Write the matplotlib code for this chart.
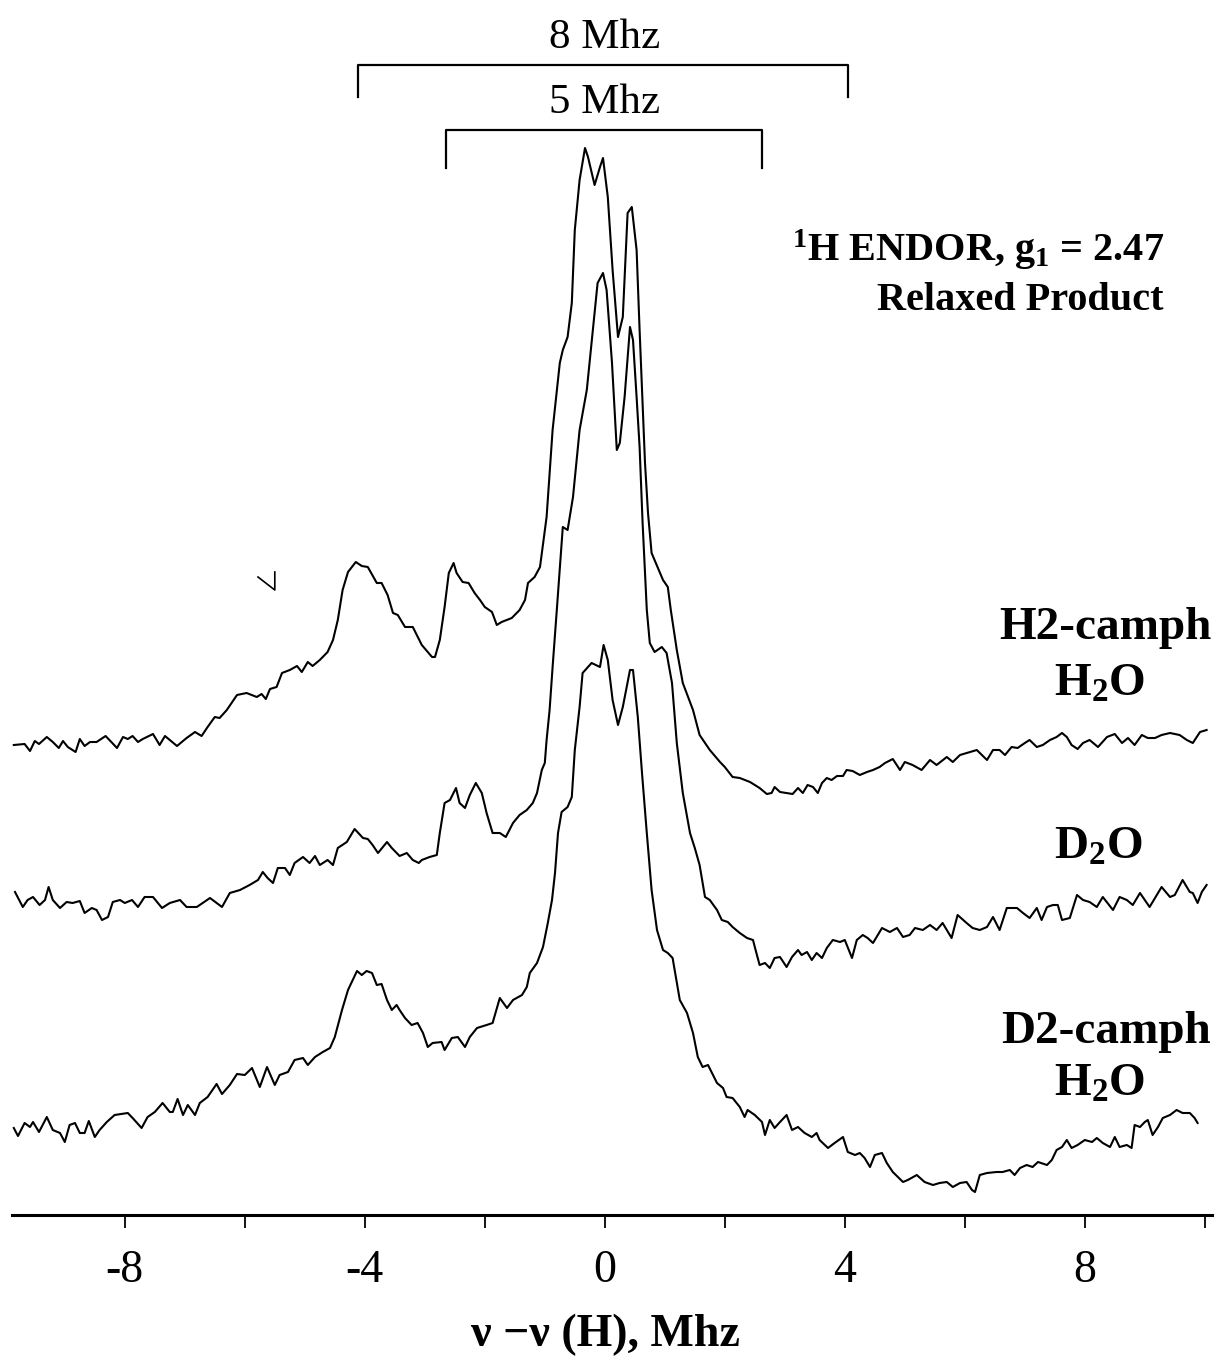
import matplotlib
matplotlib.use("Agg")
import matplotlib.pyplot as plt

plt.rcParams['font.family'] = ['Liberation Serif', 'DejaVu Serif']
plt.rcParams['mathtext.fontset'] = 'custom'
plt.rcParams['mathtext.rm'] = 'Liberation Serif:bold'
plt.rcParams['mathtext.it'] = 'Liberation Serif:bold'
plt.rcParams['mathtext.bf'] = 'Liberation Serif:bold'

# Spectra: x in MHz (nu - nu(H)), y in arbitrary units (stacked)
# H2-camph / H2O
top_x = [-9.85, -9.67, -9.58, -9.50, -9.43, -9.30, -9.20, -9.10, -9.03, -8.95, -8.82, -8.75,
         -8.67, -8.58, -8.47, -8.32, -8.13, -8.03, -7.95, -7.87, -7.78, -7.70, -7.53, -7.42,
         -7.33, -7.13, -6.97, -6.83, -6.72, -6.62, -6.50, -6.42, -6.30, -6.13, -5.97, -5.80,
         -5.72, -5.65, -5.58, -5.47, -5.38, -5.25, -5.13, -5.05, -4.95, -4.87, -4.75, -4.62,
         -4.53, -4.45, -4.37, -4.28, -4.15, -4.05, -3.95, -3.80, -3.72, -3.62, -3.53, -3.45,
         -3.33, -3.20, -3.05, -2.88, -2.83, -2.75, -2.67, -2.60, -2.52, -2.47, -2.37, -2.27,
         -2.17, -2.08, -2.00, -1.88, -1.80, -1.72, -1.55, -1.42, -1.33, -1.28, -1.17, -1.08,
         -0.97, -0.87, -0.75, -0.70, -0.62, -0.55, -0.50, -0.42, -0.33, -0.28, -0.17, -0.08,
         -0.03, 0.05, 0.13, 0.22, 0.30, 0.38, 0.45, 0.53, 0.58, 0.67, 0.72, 0.78,
         0.97, 1.05, 1.10, 1.20, 1.30, 1.47, 1.58, 1.75, 1.92, 2.00, 2.13, 2.25,
         2.42, 2.58, 2.70, 2.78, 2.83, 2.92, 3.13, 3.22, 3.30, 3.38, 3.47, 3.55,
         3.62, 3.70, 3.78, 3.87, 3.97, 4.03, 4.13, 4.25, 4.37, 4.47, 4.58, 4.67,
         4.80, 4.92, 5.00, 5.13, 5.28, 5.42, 5.53, 5.70, 5.80, 5.92, 6.03, 6.20,
         6.37, 6.47, 6.58, 6.67, 6.78, 6.88, 7.00, 7.08, 7.20, 7.30, 7.42, 7.53,
         7.62, 7.70, 7.78, 7.88, 7.97, 8.08, 8.22, 8.37, 8.50, 8.62, 8.72, 8.83,
         8.95, 9.05, 9.17, 9.28, 9.42, 9.58, 9.70, 9.80, 9.92, 10.03]
top_y = [470, 471, 464, 474, 471, 478, 473, 467, 474, 468, 463, 476,
         469, 473, 473, 479, 467, 478, 476, 479, 473, 476, 481, 470,
         479, 469, 477, 483, 479, 488, 498, 497, 505, 520, 522, 518,
         521, 516, 526, 528, 542, 545, 549, 543, 553, 549, 555, 563,
         575, 595, 625, 643, 653, 649, 648, 632, 632, 620, 602, 600,
         588, 588, 570, 558, 558, 575, 608, 642, 652, 642, 633, 632,
         622, 615, 608, 603, 590, 593, 597, 605, 615, 632, 638, 648,
         698, 785, 852, 865, 878, 912, 985, 1035, 1067, 1058, 1030, 1048,
         1057, 1018, 945, 878, 898, 1002, 1008, 965, 885, 752, 702, 662,
         635, 628, 605, 565, 532, 505, 480, 465, 453, 448, 438, 437,
         433, 427, 421, 422, 428, 423, 421, 427, 422, 430, 428, 422,
         432, 437, 435, 439, 439, 445, 444, 440, 443, 445, 448, 452,
         456, 445, 453, 450, 445, 455, 450, 458, 453, 460, 462, 465,
         455, 465, 465, 460, 468, 467, 472, 475, 468, 470, 475, 478,
         482, 478, 470, 466, 472, 475, 468, 478, 481, 472, 477, 470,
         480, 477, 477, 480, 482, 480, 475, 472, 483, 485]

# D2O
mid_x = [-9.83, -9.70, -9.62, -9.53, -9.42, -9.33, -9.27, -9.20, -9.08, -8.97, -8.87, -8.75,
         -8.67, -8.55, -8.47, -8.38, -8.28, -8.20, -8.08, -8.00, -7.88, -7.78, -7.67, -7.53,
         -7.38, -7.25, -7.08, -6.97, -6.80, -6.58, -6.38, -6.25, -6.08, -5.92, -5.78, -5.70,
         -5.62, -5.53, -5.45, -5.33, -5.25, -5.17, -5.03, -4.92, -4.83, -4.75, -4.62, -4.53,
         -4.45, -4.30, -4.25, -4.17, -4.03, -3.95, -3.87, -3.78, -3.63, -3.55, -3.42, -3.30,
         -3.20, -3.10, -3.05, -2.92, -2.80, -2.75, -2.67, -2.58, -2.48, -2.42, -2.33, -2.25,
         -2.15, -2.05, -1.97, -1.87, -1.75, -1.65, -1.53, -1.42, -1.30, -1.20, -1.13, -1.05,
         -1.00, -0.97, -0.92, -0.87, -0.80, -0.70, -0.62, -0.53, -0.42, -0.30, -0.20, -0.12,
         -0.03, 0.03, 0.12, 0.20, 0.25, 0.33, 0.42, 0.47, 0.53, 0.58, 0.63, 0.70,
         0.75, 0.83, 0.95, 1.03, 1.12, 1.20, 1.30, 1.42, 1.50, 1.58, 1.67, 1.75,
         1.87, 1.95, 2.05, 2.13, 2.25, 2.37, 2.47, 2.50, 2.58, 2.67, 2.75, 2.83,
         2.92, 3.03, 3.12, 3.22, 3.28, 3.37, 3.45, 3.53, 3.62, 3.70, 3.80, 3.92,
         4.00, 4.12, 4.20, 4.30, 4.38, 4.47, 4.62, 4.75, 4.87, 4.97, 5.08, 5.17,
         5.30, 5.42, 5.53, 5.63, 5.78, 5.88, 6.03, 6.13, 6.25, 6.37, 6.47, 6.58,
         6.70, 6.87, 6.97, 7.08, 7.20, 7.28, 7.37, 7.47, 7.55, 7.62, 7.75, 7.87,
         7.97, 8.08, 8.20, 8.30, 8.47, 8.58, 8.70, 8.80, 8.92, 9.08, 9.28, 9.42,
         9.50, 9.63, 9.75, 9.80, 9.88, 9.95, 10.03]
mid_y = [323, 308, 315, 318, 310, 315, 328, 315, 307, 313, 312, 314,
         302, 307, 305, 295, 298, 313, 315, 312, 315, 308, 318, 318,
         307, 312, 315, 308, 308, 317, 308, 322, 325, 330, 335, 343,
         337, 332, 347, 347, 340, 352, 358, 352, 359, 350, 355, 350,
         367, 373, 378, 386, 377, 376, 370, 362, 373, 367, 359, 362,
         355, 352, 355, 358, 360, 382, 412, 415, 427, 412, 407, 420,
         432, 422, 402, 382, 382, 378, 392, 400, 405, 412, 422, 445,
         452, 475, 505, 548, 605, 688, 685, 718, 785, 825, 885, 932,
         942, 925, 852, 765, 772, 818, 888, 875, 818, 768, 692, 605,
         572, 563, 568, 562, 532, 472, 422, 382, 367, 350, 318, 315,
         305, 295, 293, 288, 282, 277, 275, 268, 250, 252, 247, 257,
         258, 248, 258, 265, 260, 263, 255, 262, 257, 267, 275, 273,
         275, 257, 275, 280, 277, 272, 287, 283, 287, 278, 280, 287,
         285, 290, 285, 292, 277, 300, 292, 287, 285, 288, 298, 285,
         307, 307, 302, 297, 307, 295, 308, 310, 310, 295, 297, 320,
         315, 313, 308, 318, 305, 318, 315, 310, 322, 308, 328, 318,
         320, 335, 323, 322, 312, 323, 330]

# D2-camph / H2O
bot_x = [-9.85, -9.78, -9.67, -9.58, -9.53, -9.43, -9.30, -9.20, -9.08, -9.00, -8.92, -8.83,
         -8.75, -8.67, -8.60, -8.50, -8.42, -8.30, -8.17, -7.95, -7.87, -7.72, -7.62, -7.50,
         -7.37, -7.25, -7.20, -7.12, -7.03, -6.95, -6.83, -6.75, -6.62, -6.47, -6.38, -6.25,
         -6.13, -6.00, -5.88, -5.75, -5.63, -5.50, -5.42, -5.28, -5.17, -5.03, -4.95, -4.83,
         -4.70, -4.58, -4.50, -4.38, -4.28, -4.13, -4.05, -3.97, -3.88, -3.80, -3.72, -3.63,
         -3.55, -3.47, -3.42, -3.33, -3.22, -3.12, -3.03, -2.95, -2.87, -2.72, -2.67, -2.55,
         -2.45, -2.33, -2.25, -2.13, -1.97, -1.87, -1.75, -1.63, -1.53, -1.38, -1.30, -1.25,
         -1.13, -1.03, -0.95, -0.88, -0.83, -0.78, -0.72, -0.62, -0.55, -0.50, -0.42, -0.37,
         -0.22, -0.08, -0.02, 0.05, 0.13, 0.22, 0.30, 0.42, 0.47, 0.55, 0.62, 0.70,
         0.78, 0.87, 0.97, 1.05, 1.13, 1.25, 1.37, 1.47, 1.55, 1.63, 1.72, 1.87,
         1.97, 2.03, 2.13, 2.25, 2.33, 2.38, 2.50, 2.62, 2.67, 2.75, 2.83, 2.92,
         3.03, 3.12, 3.22, 3.33, 3.45, 3.53, 3.58, 3.72, 3.83, 3.97, 4.05, 4.17,
         4.25, 4.33, 4.42, 4.50, 4.62, 4.70, 4.80, 4.97, 5.05, 5.20, 5.33, 5.47,
         5.58, 5.70, 5.80, 5.92, 6.03, 6.12, 6.17, 6.25, 6.37, 6.53, 6.63, 6.75,
         6.83, 6.92, 7.03, 7.13, 7.22, 7.37, 7.45, 7.53, 7.62, 7.70, 7.78, 7.88,
         8.00, 8.12, 8.20, 8.30, 8.42, 8.50, 8.58, 8.70, 8.78, 8.83, 8.92, 9.00,
         9.05, 9.13, 9.22, 9.30, 9.42, 9.53, 9.63, 9.75, 9.83, 9.88]
bot_y = [87, 79, 92, 88, 93, 83, 98, 85, 82, 73, 90, 92,
         82, 82, 94, 78, 85, 93, 100, 102, 97, 87, 98, 103,
         112, 103, 103, 116, 100, 110, 100, 112, 118, 131, 121, 130,
         141, 140, 147, 128, 148, 130, 140, 143, 155, 157, 150, 158,
         163, 167, 178, 205, 225, 244, 240, 244, 242, 230, 231, 215,
         205, 210, 205, 197, 190, 192, 182, 168, 172, 173, 165, 177,
         178, 168, 178, 187, 190, 192, 217, 207, 215, 220, 228, 242,
         252, 268, 292, 315, 342, 382, 403, 408, 418, 465, 508, 542,
         552, 548, 570, 555, 515, 490, 508, 545, 545, 498, 442, 382,
         325, 285, 265, 262, 257, 215, 202, 182, 158, 148, 150, 132,
         127, 118, 117, 108, 98, 105, 100, 93, 80, 95, 87, 93,
         100, 85, 88, 82, 78, 82, 75, 67, 72, 78, 63, 60,
         62, 57, 48, 60, 62, 52, 43, 33, 35, 40, 33, 30,
         32, 33, 28, 32, 33, 25, 23, 40, 42, 43, 43, 45,
         40, 47, 50, 48, 53, 50, 55, 65, 68, 75, 67, 70,
         75, 73, 77, 72, 68, 78, 68, 70, 67, 90, 88, 93,
         95, 80, 88, 97, 100, 105, 102, 102, 97, 92]

# Hyperfine brackets (MHz)
bracket_8_x = [-4.12, -4.12, 4.05, 4.05]
bracket_8_y = [1118, 1150, 1150, 1118]
bracket_5_x = [-2.65, -2.65, 2.62, 2.62]
bracket_5_y = [1047, 1085, 1085, 1047]

# small check mark on the left of the top trace
mark_x = [-5.78, -5.50, -5.50]
mark_y = [638, 625, 643]

fig = plt.figure(figsize=(12.2, 13.61), dpi=100)
ax = fig.add_axes([12 / 1220, 1 - 1215 / 1361, 1200 / 1220, 1215 / 1361])

for xs, ys in [(top_x, top_y), (mid_x, mid_y), (bot_x, bot_y)]:
    ax.plot(xs, ys, color='black', lw=1.5)

ax.plot(bracket_8_x, bracket_8_y, color='black', lw=1.6, clip_on=False)
ax.plot(bracket_5_x, bracket_5_y, color='black', lw=1.6, clip_on=False)
ax.plot(mark_x, mark_y, color='black', lw=1.2)

ax.text(0, 1177, '8 Mhz', ha='center', va='center', fontsize=31)
ax.text(0, 1112, '5 Mhz', ha='center', va='center', fontsize=31)

ax.text(9.33, 965, r'$^{1}$H ENDOR, g$_{1}$ = 2.47', ha='right', va='center',
        fontsize=29, fontweight='bold')
ax.text(9.31, 915, 'Relaxed Product', ha='right', va='center',
        fontsize=29, fontweight='bold')

label_kw = dict(ha='center', va='center', fontsize=34, fontweight='bold')
ax.text(8.35, 587, 'H2-camph', **label_kw)
ax.text(8.25, 530, r'H$_{2}$O', **label_kw)
ax.text(8.22, 367, r'D$_{2}$O', **label_kw)
ax.text(8.35, 183, 'D2-camph', **label_kw)
ax.text(8.25, 130, r'H$_{2}$O', **label_kw)

ax.set_xlim(-9.88, 10.12)
ax.set_ylim(0, 1215)
ax.set_xticks([-8, -6, -4, -2, 0, 2, 4, 6, 8, 10])
ax.set_xticklabels(['-8', '', '-4', '', '0', '', '4', '', '8', ''])
ax.tick_params(axis='x', direction='out', length=9, width=1.3, labelsize=33, pad=16)
ax.set_yticks([])
for side in ['top', 'left', 'right']:
    ax.spines[side].set_visible(False)
ax.spines['bottom'].set_linewidth(2.2)

fig.text(605 / 1220, 1 - 1335 / 1361, 'ν −ν (H), Mhz', ha='center', va='center',
         fontsize=33, fontweight='bold')

plt.savefig('out.png', dpi=100)
plt.close()
